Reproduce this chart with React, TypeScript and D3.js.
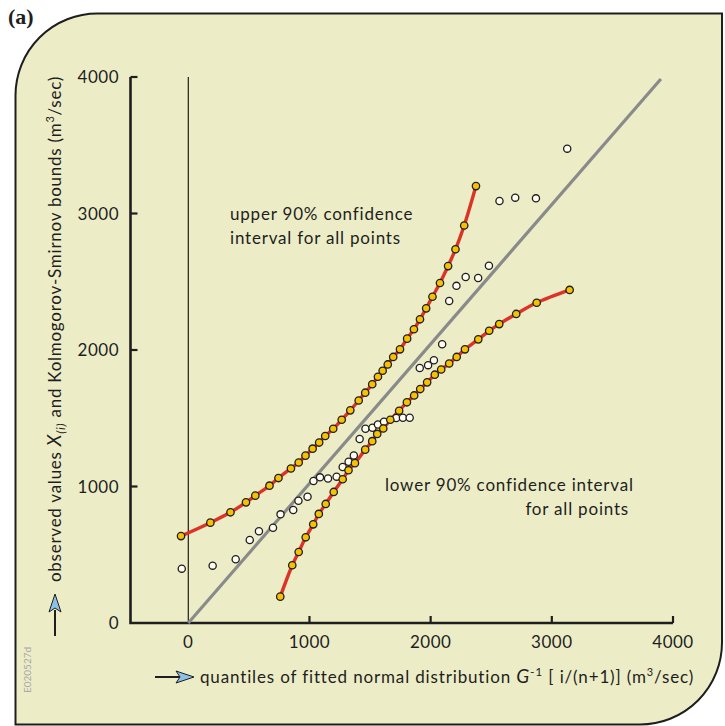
import React from "react";
import * as d3 from "d3";

// Observed annual maxima plotted against fitted normal quantiles (m³/sec)
const observedX = [-54, 201, 391, 507, 583, 699, 761, 866, 909, 984, 1033, 1087, 1153, 1224, 1274, 1323, 1366, 1414, 1462, 1520, 1565, 1615, 1716, 1771, 1827, 1910, 1979, 2027, 2095, 2153, 2213, 2289, 2392, 2481, 2568, 2698, 2869, 3127];
const observedY = [398, 420, 467, 608, 672, 698, 796, 828, 896, 925, 1040, 1067, 1059, 1072, 1143, 1181, 1227, 1348, 1423, 1430, 1454, 1475, 1502, 1504, 1504, 1868, 1889, 1925, 2042, 2359, 2470, 2535, 2527, 2617, 3092, 3116, 3111, 3475];

// Upper Kolmogorov-Smirnov 90% bound
const upperX = [-60, 182, 348, 476, 553, 670, 744, 847, 911, 967, 1026, 1080, 1130, 1196, 1266, 1337, 1406, 1460, 1518, 1565, 1604, 1646, 1691, 1747, 1806, 1862, 1912, 1963, 2015, 2077, 2144, 2205, 2277, 2374];
const upperY = [637, 735, 811, 884, 933, 1006, 1062, 1132, 1176, 1226, 1277, 1322, 1370, 1423, 1489, 1558, 1630, 1687, 1749, 1804, 1848, 1894, 1949, 2005, 2083, 2152, 2225, 2305, 2390, 2491, 2615, 2738, 2912, 3201];

// Lower Kolmogorov-Smirnov 90% bound
const lowerX = [759, 858, 911, 969, 1031, 1077, 1134, 1200, 1274, 1322, 1375, 1460, 1518, 1559, 1609, 1667, 1740, 1804, 1864, 1914, 1971, 2034, 2087, 2153, 2215, 2283, 2393, 2483, 2566, 2706, 2875, 3147];
const lowerY = [193, 423, 520, 628, 723, 799, 872, 960, 1053, 1119, 1171, 1270, 1332, 1385, 1425, 1489, 1555, 1617, 1667, 1714, 1763, 1819, 1857, 1901, 1949, 2005, 2078, 2141, 2190, 2264, 2346, 2440];

// Reference line (observed = fitted)
const refX = [0, 3900];
const refY = [0, 3985];

const tickValues = [0, 1000, 2000, 3000, 4000];

const FONT = "Lato, 'Open Sans', sans-serif";
const INK = "#1e1e1e";

export default function App() {
  const W = 725;
  const H = 726;
  const x = d3.scaleLinear().domain([0, 4000]).range([188.3, 673]);
  const y = d3.scaleLinear().domain([0, 4000]).range([623, 77]);

  const toPts = (xs: number[], ys: number[]) => xs.map((v, i) => [v, ys[i]] as [number, number]);
  const upper = toPts(upperX, upperY);
  const lower = toPts(lowerX, lowerY);
  const observed = toPts(observedX, observedY);
  const ref = toPts(refX, refY);

  const curve = d3
    .line<[number, number]>()
    .x((d) => x(d[0]))
    .y((d) => y(d[1]))
    .curve(d3.curveCatmullRom.alpha(0.5));
  const straight = d3
    .line<[number, number]>()
    .x((d) => x(d[0]))
    .y((d) => y(d[1]));

  // panel: square top-right & bottom-left corners, rounded top-left & bottom-right
  const L = 15.5, T = 13.5, R = 722, B = 724.5, rad = 82;
  const panel = `M${L},${T + rad} A${rad},${rad} 0 0 1 ${L + rad},${T} L${R},${T} L${R},${B - rad} A${rad},${rad} 0 0 1 ${R - rad},${B} L${L},${B} Z`;

  const axisX0 = 130.5;
  const axisY0 = 623;

  return (
    <svg width={W} height={H} viewBox={`0 0 ${W} ${H}`} style={{ position: "absolute", left: 0, top: 0 }}>
      <rect x={0} y={0} width={W} height={H} fill="#ffffff" />
      <path d={panel} fill="#ecedc7" stroke={INK} strokeWidth={2} />
      <text x={8} y={24} fontFamily="'Liberation Serif', serif" fontWeight="bold" fontSize={22} fill={INK}>(a)</text>

      {/* zero line */}
      <line x1={x(0)} x2={x(0)} y1={y(4000)} y2={axisY0} stroke={INK} strokeWidth={1.2} />

      {/* axes */}
      <path d={`M${axisX0},${y(4000)} V${axisY0} H${x(4000)}`} fill="none" stroke={INK} strokeWidth={2.6} />
      {tickValues.map((t) => (
        <g key={"yt" + t}>
          {t > 0 && <line x1={axisX0} x2={axisX0 + 7} y1={y(t)} y2={y(t)} stroke={INK} strokeWidth={2.2} />}
          <text x={119} y={y(t) + 6} textAnchor="end" fontFamily={FONT} fontSize={17} letterSpacing={0.5} fill={INK}>{t}</text>
        </g>
      ))}
      {tickValues.map((t) => (
        <g key={"xt" + t}>
          {t > 0 && <line x1={x(t)} x2={x(t)} y1={axisY0} y2={axisY0 - 7} stroke={INK} strokeWidth={2.2} />}
          <text x={x(t)} y={648} textAnchor="middle" fontFamily={FONT} fontSize={17} letterSpacing={0.5} fill={INK}>{t}</text>
        </g>
      ))}

      {/* 1:1 line */}
      <path d={straight(ref) || ""} fill="none" stroke="#8a8a8a" strokeWidth={3.2} />

      {/* bounds */}
      <path d={curve(upper) || ""} fill="none" stroke="#dc3326" strokeWidth={3.4} />
      <path d={curve(lower) || ""} fill="none" stroke="#dc3326" strokeWidth={3.4} />

      {observed.map((d, i) => (
        <circle key={"o" + i} cx={x(d[0])} cy={y(d[1])} r={3.6} fill="#fffdf2" stroke={INK} strokeWidth={1.3} />
      ))}
      {upper.concat(lower).map((d, i) => (
        <circle key={"b" + i} cx={x(d[0])} cy={y(d[1])} r={3.7} fill="#f6c100" stroke={INK} strokeWidth={1.3} />
      ))}

      {/* annotations */}
      <text fontFamily={FONT} fontSize={17} letterSpacing={0.8} fill={INK}>
        <tspan x={230} y={220}>upper 90% confidence</tspan>
        <tspan x={230} y={244}>interval for all points</tspan>
      </text>
      <text fontFamily={FONT} fontSize={17} letterSpacing={0.8} fill={INK}>
        <tspan x={385} y={491}>lower 90% confidence interval</tspan>
        <tspan x={629} y={515} textAnchor="end">for all points</tspan>
      </text>

      {/* y-axis title */}
      <text transform="translate(61,329) rotate(-90)" textAnchor="middle" fontFamily={FONT} fontSize={17} letterSpacing={0.75} fill={INK}>
        observed values{" "}
        <tspan fontStyle="italic" fontSize={19}>X</tspan>
        <tspan fontStyle="italic" fontSize={12} dy={4}>(i)</tspan>
        <tspan dy={-4}> and Kolmogorov-Smirnov bounds  (m</tspan>
        <tspan fontSize={11} dy={-7}>3</tspan>
        <tspan dy={7}>/sec)</tspan>
      </text>
      {/* y-axis arrow */}
      <line x1={55} x2={55} y1={636} y2={610} stroke={INK} strokeWidth={2} />
      <path d="M55,594 L61,612 L55,608 L49,612 Z" fill="#8cc0e6" stroke={INK} strokeWidth={1} />

      {/* x-axis arrow and title */}
      <line x1={155} x2={180} y1={677} y2={677} stroke={INK} strokeWidth={2} />
      <path d="M194,677 L176,683 L180,677 L176,671 Z" fill="#8cc0e6" stroke={INK} strokeWidth={1} />
      <text x={200} y={683} fontFamily={FONT} fontSize={17} letterSpacing={0.85} fill={INK}>
        quantiles of fitted normal distribution{"  "}
        <tspan fontStyle="italic" fontSize={19}>G</tspan>
        <tspan fontSize={12} dy={-7}>-1</tspan>
        <tspan dy={7}> [ i/(n+1)]  (m</tspan>
        <tspan fontSize={11} dy={-7}>3</tspan>
        <tspan dy={7}>/sec)</tspan>
      </text>

      {/* figure code */}
      <text transform="translate(31,670) rotate(-90)" textAnchor="middle" fontFamily={FONT} fontSize={10} fill="#a8a8a8">E020527d</text>
    </svg>
  );
}
